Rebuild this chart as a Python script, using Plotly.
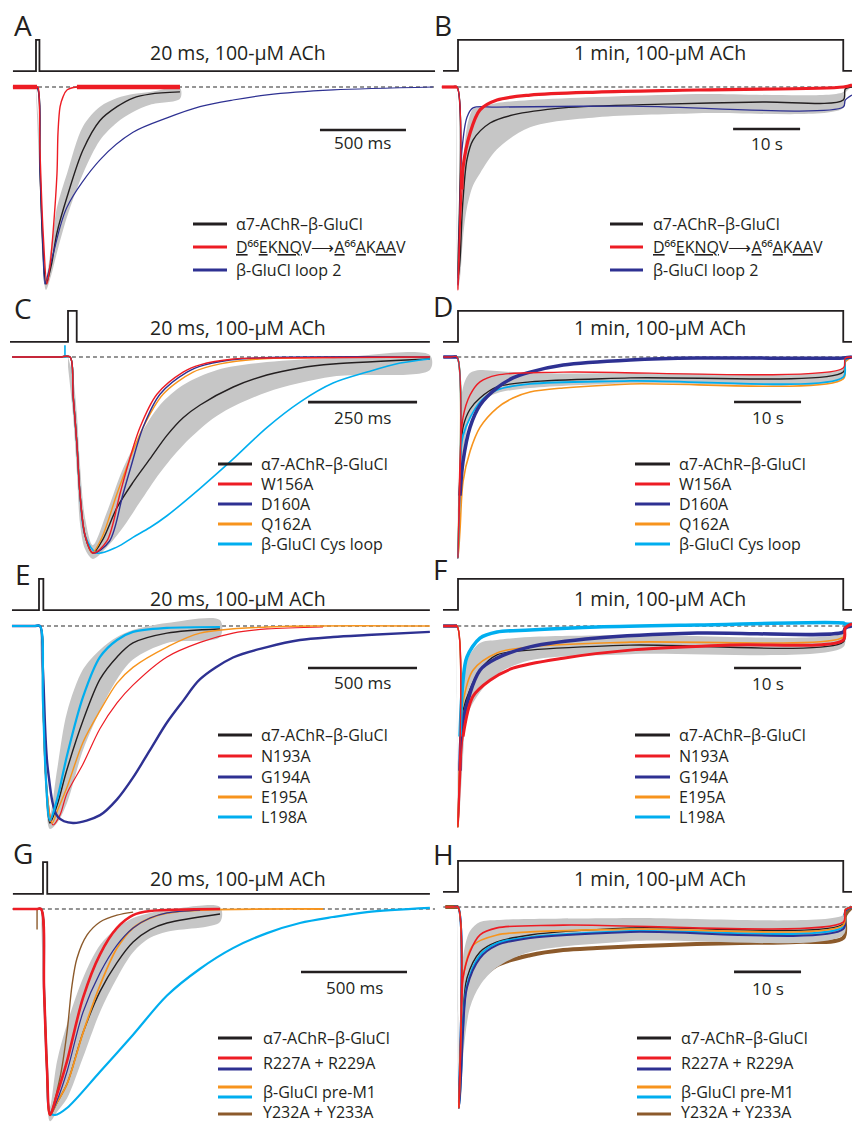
import plotly.graph_objects as go

W, H = 852, 1124

# ---------------- DATA (time: ms for left panels, s for right panels; current normalised to peak) -------------
# Panel A
A_T_WT = [-134, -20, 6, 23, 41, 58, 90, 122, 180, 273, 372, 471, 564, 663, 837]
A_V_WT = [0, 0, 0, -0.42, -0.83, -1.0, -0.90, -0.74, -0.56, -0.32, -0.17, -0.10, -0.056, -0.036, -0.025]
A_BAND_T = [0, 23, 41, 58, 90, 122, 180, 273, 372, 471, 564, 663, 837]
A_BAND_HI = [0.0, -0.30, -0.72, -0.97, -0.80, -0.61, -0.44, -0.20, -0.10, -0.056, -0.036, -0.025, -0.005]
A_BAND_LO = [-0.02, -0.52, -0.92, -1.03, -0.95, -0.84, -0.66, -0.44, -0.27, -0.18, -0.127, -0.09, -0.06]
A_T_D66 = [-134, -20, 6, 12, 23, 41, 64, 81, 99, 122, 128, 140, 157, 180, 238, 400, 837]
A_V_D66 = [0, 0, 0, 0, -0.32, -0.73, -1.0, -0.91, -0.74, -0.44, -0.23, -0.10, -0.05, -0.015, 0, 0, 0]
A_T_LOOP2 = [-134, -20, 6, 23, 41, 52, 70, 99, 180, 372, 564, 762, 953, 1145, 1343, 1727, 2308]
A_V_LOOP2 = [0, 0, 0, -0.42, -0.83, -1.0, -0.95, -0.85, -0.61, -0.37, -0.23, -0.157, -0.10, -0.066, -0.04, -0.015, 0]
A_STIM_T = [-134, 0, 0, 20, 20, 2320]
A_STIM_V = [0.081, 0.081, 0.239, 0.239, 0.081, 0.081]
A_DASH_T = [12, 2320]

# Panel B
B_T_WT = [-2.4, -1.0, -0.15, 0, 0.3, 0.6, 0.75, 1.34, 2.24, 4.78, 8.2, 15.7, 30.6, 45.5, 57.5, 57.8, 58.8]
B_V_WT = [0, 0, 0, -0.95, -0.86, -0.64, -0.56, -0.36, -0.264, -0.179, -0.139, -0.104, -0.085, -0.075, -0.065, -0.01, 0]
B_BAND_T = [-0.15, 0, 0.3, 0.75, 1.34, 2.24, 3.28, 5.82, 10.75, 20.75, 35.7, 57.5, 57.8, 58.8]
B_BAND_HI = [0, -0.93, -0.70, -0.40, -0.20, -0.11, -0.10, -0.08, -0.065, -0.05, -0.035, -0.025, 0.0, 0.0]
B_BAND_LO = [0, -1.0, -0.95, -0.75, -0.60, -0.49, -0.43, -0.31, -0.20, -0.15, -0.13, -0.105, -0.03, 0.0]
B_T_D66 = [-2.4, -1.0, -0.15, 0, 0.3, 0.6, 0.75, 1.79, 3.28, 5.82, 10.75, 20.75, 35.7, 57.5, 58.8]
B_V_D66 = [0, 0, 0, -1.01, -0.71, -0.51, -0.40, -0.23, -0.114, -0.065, -0.04, -0.025, -0.015, 0, 0.01]
B_T_LOOP2 = [-2.4, -1.0, -0.15, 0, 0.3, 0.6, 1.34, 2.24, 5.8, 25.7, 57.5, 57.8, 58.8]
B_V_LOOP2 = [0, 0, 0, -0.985, -0.56, -0.31, -0.15, -0.104, -0.10, -0.095, -0.10, -0.065, -0.04]
B_STIM_T = [-2.24, 0, 0, 57.5, 57.5, 58.8]
B_STIM_V = [0.08, 0.08, 0.234, 0.234, 0.08, 0.08]
B_DASH_T = [-2.2, 58.8]

# Panel C
C_T_WT = [-128, -20, 4.6, 11.5, 20.6, 27.5, 39, 57, 80, 112, 149, 188, 227, 264, 303, 379, 456, 532, 608, 830]
C_V_WT = [0, 0, 0, -0.19, -0.45, -0.70, -0.91, -1.0, -0.93, -0.77, -0.64, -0.52, -0.40, -0.31, -0.245, -0.153, -0.092, -0.056, -0.036, -0.01]
C_BAND_T = [0, 11.5, 20.6, 27.5, 39, 57, 89.5, 126, 165, 211, 264, 342, 456, 608, 830]
C_BAND_HI = [0.0, -0.10, -0.30, -0.55, -0.82, -0.96, -0.79, -0.57, -0.40, -0.245, -0.143, -0.066, -0.026, -0.005, 0.01]
C_BAND_LO = [-0.05, -0.30, -0.60, -0.85, -0.98, -1.03, -0.97, -0.87, -0.74, -0.59, -0.45, -0.30, -0.18, -0.10, -0.066]
C_T_W156A = [-128, -20, 4.6, 11.5, 20.6, 27.5, 39, 57, 89, 119, 135, 165, 204, 264, 303, 379, 456, 830]
C_V_W156A = [0, 0, 0, -0.19, -0.45, -0.70, -0.91, -1.0, -0.94, -0.70, -0.57, -0.36, -0.19, -0.077, -0.04, -0.01, -0.005, 0]
C_T_D160A = [-128, -20, 4.6, 11.5, 20.6, 27.5, 39, 57, 95, 126, 143, 172, 211, 273, 314, 394, 830]
C_V_D160A = [0, 0, 0, -0.19, -0.45, -0.70, -0.91, -1.0, -0.94, -0.70, -0.57, -0.36, -0.19, -0.077, -0.04, -0.01, 0]
C_T_Q162A = [-128, -20, 4.6, 11.5, 20.6, 27.5, 39, 55, 78, 112, 142, 172, 218, 287, 349, 440, 830]
C_V_Q162A = [0, 0, 0, -0.19, -0.45, -0.70, -0.91, -1.0, -0.92, -0.70, -0.52, -0.36, -0.19, -0.077, -0.035, -0.01, 0]
C_T_CYS = [-128, -20, 4.6, 11.5, 20.6, 27.5, 39, 66, 112, 149, 188, 227, 303, 379, 456, 532, 608, 686, 762, 830]
C_V_CYS = [0, 0, 0, -0.19, -0.45, -0.70, -0.91, -1.0, -0.97, -0.92, -0.87, -0.81, -0.67, -0.52, -0.36, -0.23, -0.133, -0.077, -0.031, -0.01]
C_SPIKE_T = [-7, -7]
C_SPIKE_V = [0.06, -0.005]
C_STIM_T = [-133, 0, 0, 20, 20, 830]
C_STIM_V = [0.077, 0.077, 0.235, 0.235, 0.077, 0.077]
C_DASH_T = [-7, 830]

# Panel D
D_T_WT = [-2.2, -1.0, -0.15, 0, 0.3, 0.75, 1.79, 3.28, 5.82, 10.75, 25.7, 57.5, 57.8, 58.8]
D_V_WT = [0, 0, 0, -1.0, -0.56, -0.35, -0.26, -0.204, -0.149, -0.124, -0.104, -0.075, -0.015, 0]
D_BAND_T = [-0.15, 0, 0.3, 0.75, 1.79, 3.28, 5.82, 10.75, 25.7, 57.5, 57.8, 58.8]
D_BAND_HI = [0, -0.95, -0.40, -0.15, -0.08, -0.065, -0.07, -0.08, -0.08, -0.055, -0.01, 0]
D_BAND_LO = [0, -1.0, -0.80, -0.50, -0.30, -0.224, -0.18, -0.154, -0.13, -0.104, -0.02, 0]
D_T_W156A = [-2.2, -1.0, -0.15, 0, 0.3, 0.75, 1.79, 3.28, 5.82, 15.7, 57.5, 57.8, 58.8]
D_V_W156A = [0, 0, 0, -1.0, -0.52, -0.30, -0.19, -0.124, -0.09, -0.075, -0.055, -0.005, 0]
D_T_D160A = [-2.2, -1.0, -0.15, 0, 0.3, 0.75, 1.79, 3.28, 5.82, 8.2, 10.75, 15.7, 25.7, 35.7, 57.5, 58.8]
D_V_D160A = [0, 0, 0, -1.0, -0.69, -0.52, -0.35, -0.24, -0.154, -0.104, -0.075, -0.04, -0.015, -0.005, -0.005, 0]
D_T_Q162A = [-2.2, -1.0, -0.15, 0, 0.3, 0.75, 1.79, 3.28, 5.82, 8.2, 10.75, 15.7, 25.7, 57.5, 57.8, 58.8]
D_V_Q162A = [0, 0, 0, -1.0, -0.86, -0.62, -0.47, -0.35, -0.254, -0.204, -0.174, -0.154, -0.134, -0.109, -0.025, 0]
D_T_CYS = [-2.2, -1.0, -0.15, 0, 0.3, 0.75, 3.28, 5.82, 10.75, 25.7, 57.5, 57.8, 58.8]
D_V_CYS = [0, 0, 0, -1.0, -0.61, -0.39, -0.224, -0.164, -0.134, -0.119, -0.10, -0.015, 0]
D_STIM_T = [-2.24, 0, 0, 57.5, 57.5, 58.8]
D_STIM_V = [0.075, 0.075, 0.229, 0.229, 0.075, 0.075]
D_DASH_T = [-2.2, 58.8]

# Panel E
E_T_WT = [-124, -20, 4.6, 18, 32, 50, 83, 128, 202, 280, 358, 431, 587, 830]
E_V_WT = [0, 0, 0, -0.38, -0.78, -1.0, -0.91, -0.73, -0.48, -0.27, -0.157, -0.086, -0.036, -0.015]
E_BAND_T = [4.6, 18, 32, 50, 83, 128, 202, 280, 358, 431, 587, 830]
E_BAND_HI = [0, -0.25, -0.65, -0.96, -0.73, -0.44, -0.22, -0.12, -0.056, -0.02, 0.015, 0.03]
E_BAND_LO = [-0.03, -0.50, -0.88, -1.03, -1.0, -0.90, -0.63, -0.43, -0.27, -0.17, -0.086, -0.056]
E_T_N193A = [-124, -20, 4.6, 18, 32, 64, 96, 128, 202, 280, 358, 431, 587, 739, 890, 1046, 1303]
E_V_N193A = [0, 0, 0, -0.38, -0.78, -1.01, -0.96, -0.85, -0.70, -0.52, -0.39, -0.30, -0.157, -0.083, -0.036, -0.015, -0.005]
E_T_G194A = [-124, -20, 4.6, 18, 41, 87, 156, 280, 358, 431, 509, 587, 661, 739, 890, 1046, 1197, 1349, 1505, 1793]
E_V_G194A = [0, 0, 0, -0.22, -0.73, -0.97, -1.0, -0.96, -0.88, -0.77, -0.63, -0.49, -0.38, -0.27, -0.16, -0.107, -0.071, -0.056, -0.046, -0.03]
E_T_E195A = [-124, -20, 4.6, 18, 32, 60, 87, 128, 202, 280, 358, 431, 587, 739, 1046, 1793]
E_V_E195A = [0, 0, 0, -0.38, -0.78, -1.0, -0.93, -0.82, -0.59, -0.43, -0.29, -0.21, -0.107, -0.036, -0.005, 0]
E_T_L198A = [-124, -20, 4.6, 18, 32, 50, 83, 128, 202, 280, 358, 431, 587, 830]
E_V_L198A = [0, 0, 0, -0.38, -0.78, -0.985, -0.88, -0.66, -0.36, -0.157, -0.071, -0.03, -0.01, -0.005]
E_STIM_T = [-124, 0, 0, 20, 20, 1793]
E_STIM_V = [0.081, 0.081, 0.239, 0.239, 0.081, 0.081]
E_DASH_T = [4.6, 1793]

# Panel F
F_T_WT = [-2.2, -1.0, -0.15, 0, 0.3, 0.75, 3.28, 5.82, 10.75, 25.7, 57.5, 57.8, 58.8]
F_V_WT = [0, 0, 0, -1.0, -0.70, -0.42, -0.22, -0.144, -0.12, -0.095, -0.08, -0.01, 0]
F_BAND_T = [-0.15, 0, 0.3, 0.75, 1.34, 3.28, 5.82, 10.75, 25.7, 57.5, 57.8, 58.8]
F_BAND_HI = [0, -0.95, -0.50, -0.30, -0.17, -0.085, -0.07, -0.055, -0.045, -0.035, 0, 0]
F_BAND_LO = [0, -1.0, -0.90, -0.65, -0.45, -0.33, -0.24, -0.17, -0.14, -0.105, -0.02, 0]
F_T_N193A = [-2.2, -1.0, -0.15, 0, 0.3, 0.75, 2.24, 4.78, 8.2, 15.7, 25.7, 40.6, 57.5, 57.8, 58.8]
F_V_N193A = [0, 0, 0, -1.0, -0.80, -0.55, -0.35, -0.27, -0.21, -0.16, -0.12, -0.095, -0.07, -0.01, 0.01]
F_T_G194A = [-2.2, -1.0, -0.15, 0, 0.3, 0.75, 3.28, 5.82, 10.75, 20.75, 35.7, 57.5, 57.8, 58.8]
F_V_G194A = [0, 0, 0, -1.0, -0.72, -0.47, -0.22, -0.16, -0.104, -0.06, -0.035, -0.03, -0.01, 0]
F_T_E195A = [-2.2, -1.0, -0.15, 0, 0.3, 0.75, 2.24, 5.82, 10.75, 25.7, 57.5, 57.8, 58.8]
F_V_E195A = [0, 0, 0, -1.0, -0.65, -0.38, -0.22, -0.134, -0.104, -0.08, -0.055, -0.01, 0]
F_T_L198A = [-2.2, -1.0, -0.15, 0, 0.3, 0.75, 1.34, 3.28, 5.82, 10.75, 20.75, 35.7, 57.5, 57.8, 58.8]
F_V_L198A = [0, 0, 0, -1.0, -0.55, -0.27, -0.154, -0.06, -0.03, -0.02, -0.005, 0.005, 0.015, 0.01, 0.01]
F_STIM_T = [-2.24, 0, 0, 57.5, 57.5, 58.8]
F_STIM_V = [0.08, 0.08, 0.234, 0.234, 0.08, 0.08]
F_DASH_T = [-2.2, 58.8]

# Panel G
G_T_WT = [-142, -30, -9, 5, 19, 33, 66, 113, 189, 269, 349, 425, 505, 585, 835]
G_V_WT = [0, 0, 0, -0.39, -0.78, -1.0, -0.94, -0.85, -0.60, -0.40, -0.26, -0.16, -0.10, -0.068, -0.024]
G_BAND_T = [-9, 5, 19, 33, 66, 113, 189, 269, 349, 425, 505, 585, 835]
G_BAND_HI = [0, -0.25, -0.65, -0.96, -0.74, -0.56, -0.335, -0.175, -0.092, -0.044, -0.019, -0.005, 0.01]
G_BAND_LO = [-0.03, -0.52, -0.88, -1.03, -0.985, -0.92, -0.72, -0.50, -0.335, -0.21, -0.14, -0.11, -0.063]
G_T_R227A = [-142, -30, -9, 5, 19, 33, 66, 113, 189, 269, 349, 425, 505, 835]
G_V_R227A = [0, 0, 0, -0.39, -0.78, -1.0, -0.90, -0.74, -0.43, -0.22, -0.092, -0.03, -0.01, 0]
G_T_R229A = [-142, -30, -9, 5, 19, 33, 66, 113, 189, 269, 349, 425, 505, 585, 741]
G_V_R229A = [0, 0, 0, -0.39, -0.78, -1.0, -0.93, -0.79, -0.50, -0.31, -0.175, -0.092, -0.044, -0.019, -0.005]
G_T_PREM1 = [-142, -30, -9, 5, 19, 33, 66, 113, 189, 269, 349, 425, 505, 585, 741, 1321]
G_V_PREM1 = [0, 0, 0, -0.39, -0.78, -1.0, -0.94, -0.85, -0.60, -0.37, -0.19, -0.092, -0.044, -0.02, -0.005, 0]
G_T_PREM1B = [-142, -30, -9, 5, 19, 33, 57, 113, 269, 425, 585, 741, 896, 1057, 1212, 1368, 1528, 1825]
G_V_PREM1B = [0, 0, 0, -0.39, -0.78, -0.99, -1.0, -0.966, -0.79, -0.61, -0.42, -0.29, -0.19, -0.117, -0.068, -0.039, -0.015, 0.005]
G_T_Y232A = [-142, -30, -9, 5, 19, 33, 80, 113, 137, 160, 208, 269, 349, 425]
G_V_Y232A = [0, 0, 0, -0.39, -0.78, -0.99, -0.82, -0.60, -0.37, -0.24, -0.126, -0.063, -0.03, -0.015]
G_SPIKE_T = [-28, -28]
G_SPIKE_V = [0, -0.10]
G_STIM_T = [-142, 0, 0, 20, 20, 1825]
G_STIM_V = [0.073, 0.073, 0.228, 0.228, 0.073, 0.073]
G_DASH_T = [-142, 1849]

# Panel H
H_T_WT = [-1.9, -0.8, 0, 0.15, 0.45, 0.75, 1.34, 3.28, 5.82, 10.75, 25.7, 57.5, 57.8, 58.8]
H_V_WT = [0, 0, 0, -1.0, -0.78, -0.55, -0.353, -0.224, -0.174, -0.139, -0.104, -0.085, -0.015, 0]
H_BAND_T = [0, 0.15, 0.45, 0.75, 1.79, 3.28, 5.82, 10.75, 25.7, 57.5, 57.8, 58.8]
H_BAND_HI = [0, -0.95, -0.50, -0.25, -0.12, -0.075, -0.065, -0.06, -0.055, -0.04, 0, 0]
H_BAND_LO = [0, -1.0, -0.95, -0.75, -0.50, -0.39, -0.30, -0.224, -0.17, -0.139, -0.02, 0]
H_T_R227A = [-1.9, -0.8, 0, 0.15, 0.45, 0.6, 0.75, 1.79, 3.28, 5.82, 15.7, 57.5, 57.8, 58.8]
H_V_R227A = [0, 0, 0, -1.0, -0.60, -0.44, -0.353, -0.224, -0.139, -0.104, -0.09, -0.075, -0.015, 0]
H_T_R229A = [-1.9, -0.8, 0, 0.15, 0.45, 0.75, 1.34, 3.28, 5.82, 10.75, 25.7, 57.5, 57.8, 58.8]
H_V_R229A = [0, 0, 0, -1.0, -0.85, -0.62, -0.40, -0.254, -0.19, -0.154, -0.124, -0.11, -0.02, 0]
H_T_PREM1 = [-1.9, -0.8, 0, 0.15, 0.45, 0.75, 2.24, 5.82, 10.75, 25.7, 57.5, 57.8, 58.8]
H_V_PREM1 = [0, 0, 0, -1.0, -0.62, -0.353, -0.19, -0.139, -0.124, -0.11, -0.09, -0.015, 0]
H_T_PREM1B = [-1.9, -0.8, 0, 0.15, 0.45, 0.75, 1.34, 3.28, 5.82, 10.75, 25.7, 57.5, 57.8, 58.8]
H_V_PREM1B = [0, 0, 0, -1.0, -0.83, -0.60, -0.39, -0.24, -0.18, -0.15, -0.12, -0.10, -0.02, 0]
H_T_Y232A = [-1.9, -0.8, 0.05, 2.84, 5.82, 10.75, 15.7, 20.75, 30.6, 40.6, 50.5, 57.5, 57.8, 58.8]
H_V_Y232A = [0, 0, 0, -0.373, -0.29, -0.24, -0.214, -0.204, -0.19, -0.18, -0.174, -0.154, -0.04, 0]
H_STIM_T = [-2.24, 0, 0, 57.5, 57.5, 58.8]
H_STIM_V = [0.075, 0.075, 0.229, 0.229, 0.075, 0.075]
H_DASH_T = [-2.2, 58.8]

# scale bars: (start, length, level, label level, label)
SCALE_A = (1651, 500, -0.218, -0.284, "500 ms")
SCALE_B = (41.06, 10, -0.209, -0.279, "10 s")
SCALE_C = (550.6, 250, -0.23, -0.311, "250 ms")
SCALE_D = (41.2, 10, -0.224, -0.30, "10 s")
SCALE_E = (1234, 500, -0.213, -0.289, "500 ms")
SCALE_F = (41.2, 10, -0.209, -0.284, "10 s")
SCALE_G = (1217, 500, -0.306, -0.383, "500 ms")
SCALE_H = (41.2, 10, -0.323, -0.403, "10 s")

PULSE_SHORT = "20 ms, 100-μM ACh"
PULSE_LONG = "1 min, 100-μM ACh"
WT_NAME = "α7-AChR–β-GluCl"
LEG_A = [WT_NAME, "<u>D</u>⁶⁶<u>E</u>K<u>NQ</u>V⟶<u>A</u>⁶⁶<u>A</u>K<u>AA</u>V", "β-GluCl loop 2"]
LEG_C = [WT_NAME, "W156A", "D160A", "Q162A", "β-GluCl Cys loop"]
LEG_E = [WT_NAME, "N193A", "G194A", "E195A", "L198A"]
LEG_G = [WT_NAME, "R227A + R229A", "β-GluCl pre-M1", "Y232A + Y233A"]

# ---------------- STYLE / LAYOUT -------------
BLACK = "#231f20"
RED = "#ed1c24"
NAVY = "#2e3192"
ORANGE = "#f7941d"
CYAN = "#00aeef"
BROWN = "#8c5a2b"
GREY = "rgba(198,198,198,1)"
FONT = "Open Sans"

# pixel geometry of each panel: box (L, R, T, B), x-pixel of t=0, time per pixel, baseline & peak pixel rows
PANELS = [
    dict(box=(0, 436, 0, 292), x0=36, k=500 / 86, base=87, peak=284),
    dict(box=(436, 852, 0, 292), x0=458, k=10 / 67, base=87, peak=288),
    dict(box=(0, 436, 292, 566), x0=68, k=250 / 109, base=357, peak=553),
    dict(box=(436, 852, 292, 566), x0=458, k=10 / 67, base=357, peak=558),
    dict(box=(0, 436, 566, 840), x0=39, k=500 / 109, base=626, peak=823),
    dict(box=(436, 852, 566, 840), x0=458, k=10 / 67, base=626, peak=827),
    dict(box=(0, 436, 840, 1124), x0=43, k=500 / 106, base=909, peak=1115),
    dict(box=(436, 852, 840, 1124), x0=458, k=10 / 67, base=907, peak=1108),
]

fig = go.Figure()
layout = dict(width=W, height=H, margin=dict(l=0, r=0, t=0, b=0),
              paper_bgcolor="white", plot_bgcolor="rgba(0,0,0,0)", showlegend=False)

for i, g in enumerate(PANELS, start=1):
    L, R, T, B = g["box"]
    xr = [(L - g["x0"]) * g["k"], (R - g["x0"]) * g["k"]]
    span = g["peak"] - g["base"]
    yr = [-(B - g["base"]) / span, -(T - g["base"]) / span]
    sfx = "" if i == 1 else str(i)
    layout["xaxis" + sfx] = dict(domain=[L / W, R / W], range=xr, visible=False,
                                 fixedrange=True, anchor="y" + sfx)
    layout["yaxis" + sfx] = dict(domain=[1 - B / H, 1 - T / H], range=yr, visible=False,
                                 fixedrange=True, anchor="x" + sfx)
fig.update_layout(**layout)


def axes(i):
    s = "" if i == 1 else str(i)
    return "x" + s, "y" + s


def line(i, t, v, color, width=1.4, shape="spline", dash=None, opacity=1.0):
    xa, ya = axes(i)
    fig.add_trace(go.Scatter(x=t, y=v, mode="lines", xaxis=xa, yaxis=ya, opacity=opacity,
                             line=dict(color=color, width=width, shape=shape, smoothing=0.9, dash=dash),
                             hoverinfo="skip", connectgaps=False))


def noisy(i, t, v, color, width, t_pre, t_post):
    """thick (noisy-looking) rendering of the baseline before t_pre and of the record after t_post"""
    xs, ys = [], []
    for a, b in zip(t, v):
        if a <= t_pre:
            xs.append(a); ys.append(b)
    xs.append(None); ys.append(None)
    for a, b in zip(t, v):
        if a >= t_post:
            xs.append(a); ys.append(b)
    line(i, xs, ys, color, width=width)


def band(i, t, hi, lo):
    xa, ya = axes(i)
    fig.add_trace(go.Scatter(x=list(t) + list(t)[::-1], y=list(hi) + list(lo)[::-1], mode="lines",
                             fill="toself", fillcolor=GREY, xaxis=xa, yaxis=ya,
                             line=dict(width=0, shape="spline", smoothing=0.9), hoverinfo="skip"))


def frame(i, stim_t, stim_v, dash_t):
    line(i, stim_t, stim_v, BLACK, width=1.8, shape="linear")
    line(i, dash_t, [0] * len(dash_t), "#2a2a2a", width=1.1, shape="linear", dash="4px,3px")


def scalebar(i, sb):
    xa, ya = axes(i)
    x0, length, lvl, lbl_lvl, text = sb
    fig.add_shape(type="line", xref=xa, yref=ya, x0=x0, x1=x0 + length, y0=lvl, y1=lvl,
                  line=dict(color=BLACK, width=2.6))
    fig.add_annotation(xref=xa, yref=ya, x=x0 + length / 2, y=lbl_lvl, text=text, showarrow=False,
                       font=dict(family=FONT, size=17, color=BLACK), xanchor="center", yanchor="middle")


def ptext(x, y, text, size=17, anchor="center"):
    fig.add_annotation(xref="paper", yref="paper", x=x / W, y=1 - y / H, text=text, showarrow=False,
                       font=dict(family=FONT, size=size, color=BLACK), xanchor=anchor, yanchor="middle")


def legend(x0, x1, ys, colors, tx, tys, texts):
    for y, c in zip(ys, colors):
        fig.add_shape(type="line", xref="paper", yref="paper", x0=x0 / W, x1=x1 / W,
                      y0=1 - y / H, y1=1 - y / H, line=dict(color=c, width=2.8))
    for y, t in zip(tys, texts):
        ptext(tx, y, t, size=16, anchor="left")


# ---- Panel A ----
frame(1, A_STIM_T, A_STIM_V, A_DASH_T)
band(1, A_BAND_T, A_BAND_HI, A_BAND_LO)
line(1, A_T_WT, A_V_WT, BLACK)
line(1, A_T_LOOP2, A_V_LOOP2, NAVY, width=1.2)
line(1, A_T_D66, A_V_D66, RED, width=1.4)
noisy(1, A_T_D66, A_V_D66, RED, 4.5, 6, 238)
scalebar(1, SCALE_A)

# ---- Panel B ----
frame(2, B_STIM_T, B_STIM_V, B_DASH_T)
band(2, B_BAND_T, B_BAND_HI, B_BAND_LO)
line(2, B_T_WT, B_V_WT, BLACK)
line(2, B_T_LOOP2, B_V_LOOP2, NAVY, width=1.3)
line(2, B_T_D66, B_V_D66, RED, width=1.4)
noisy(2, B_T_D66, B_V_D66, RED, 3.2, -0.15, 0.6)
scalebar(2, SCALE_B)

# ---- Panel C ----
frame(3, C_STIM_T, C_STIM_V, C_DASH_T)
band(3, C_BAND_T, C_BAND_HI, C_BAND_LO)
line(3, C_T_WT, C_V_WT, BLACK)
line(3, C_T_CYS, C_V_CYS, CYAN, width=1.6)
line(3, C_SPIKE_T, C_SPIKE_V, CYAN, width=1.6, shape="linear")
line(3, C_T_Q162A, C_V_Q162A, ORANGE)
line(3, C_T_D160A, C_V_D160A, NAVY)
line(3, C_T_W156A, C_V_W156A, RED)
scalebar(3, SCALE_C)

# ---- Panel D ----
frame(4, D_STIM_T, D_STIM_V, D_DASH_T)
band(4, D_BAND_T, D_BAND_HI, D_BAND_LO)
line(4, D_T_WT, D_V_WT, BLACK)
line(4, D_T_Q162A, D_V_Q162A, ORANGE, width=1.6)
line(4, D_T_CYS, D_V_CYS, CYAN, width=1.8)
noisy(4, D_T_D160A, D_V_D160A, NAVY, 3.5, -0.15, 0.3)
line(4, D_T_W156A, D_V_W156A, RED)
scalebar(4, SCALE_D)

# ---- Panel E ----
frame(5, E_STIM_T, E_STIM_V, E_DASH_T)
band(5, E_BAND_T, E_BAND_HI, E_BAND_LO)
line(5, E_T_WT, E_V_WT, BLACK)
line(5, E_T_N193A, E_V_N193A, RED, width=1.2)
line(5, E_T_E195A, E_V_E195A, ORANGE, width=1.4)
line(5, E_T_G194A, E_V_G194A, NAVY, width=2.4)
line(5, E_T_L198A, E_V_L198A, CYAN, width=2.2)
scalebar(5, SCALE_E)

# ---- Panel F ----
frame(6, F_STIM_T, F_STIM_V, F_DASH_T)
band(6, F_BAND_T, F_BAND_HI, F_BAND_LO)
line(6, F_T_WT, F_V_WT, BLACK)
line(6, F_T_E195A, F_V_E195A, ORANGE, width=1.6)
noisy(6, F_T_G194A, F_V_G194A, NAVY, 3.5, -0.15, 0.3)
noisy(6, F_T_L198A, F_V_L198A, CYAN, 3.5, -0.15, 0.3)
line(6, F_T_N193A, F_V_N193A, RED, width=1.4)
noisy(6, F_T_N193A, F_V_N193A, RED, 3.0, -0.15, 0.75)
scalebar(6, SCALE_F)

# ---- Panel G ----
frame(7, G_STIM_T, G_STIM_V, G_DASH_T)
band(7, G_BAND_T, G_BAND_HI, G_BAND_LO)
line(7, G_T_PREM1B, G_V_PREM1B, CYAN, width=2.2)
line(7, G_T_WT, G_V_WT, BLACK)
line(7, G_T_Y232A, G_V_Y232A, BROWN, width=1.4)
line(7, G_SPIKE_T, G_SPIKE_V, BROWN, width=1.4, shape="linear")
line(7, G_T_PREM1, G_V_PREM1, ORANGE, width=1.8)
line(7, G_T_R229A, G_V_R229A, NAVY, width=1.2)
line(7, G_T_R227A, G_V_R227A, RED, width=2.6)
scalebar(7, SCALE_G)

# ---- Panel H ----
frame(8, H_STIM_T, H_STIM_V, H_DASH_T)
noisy(8, H_T_Y232A, H_V_Y232A, BROWN, 4, 0.05, 2.84)
band(8, H_BAND_T, H_BAND_HI, H_BAND_LO)
line(8, H_T_WT, H_V_WT, BLACK)
line(8, H_T_PREM1B, H_V_PREM1B, CYAN, width=2)
line(8, H_T_R229A, H_V_R229A, NAVY, width=2)
line(8, H_T_PREM1, H_V_PREM1, ORANGE, width=1.6)
line(8, H_T_R227A, H_V_R227A, RED, width=1.6)
scalebar(8, SCALE_H)

# ---- texts ----
for lbl, (x, y) in zip("ABCDEFGH", [(23, 25), (443, 25), (23, 308), (443, 306),
                                    (23, 574), (440, 569), (23, 853), (443, 854)]):
    ptext(x, y, lbl, size=28)
for y in (53, 328, 598, 878):
    ptext(238, y, PULSE_SHORT, size=19.5)
    ptext(660, y, PULSE_LONG, size=19.5)

legend(193, 227, [224, 247, 270], [BLACK, RED, NAVY], 234, [224, 247, 270], LEG_A)
legend(610, 643, [224, 247, 270], [BLACK, RED, NAVY], 651, [224, 247, 270], LEG_A)
ys5 = [464, 484, 504, 524, 544]
legend(218, 252, ys5, [BLACK, RED, NAVY, ORANGE, CYAN], 259, ys5, LEG_C)
legend(635, 670, ys5, [BLACK, RED, NAVY, ORANGE, CYAN], 677, ys5, LEG_C)
ys5e = [735, 756, 777, 797, 817]
legend(218, 252, ys5e, [BLACK, RED, NAVY, ORANGE, CYAN], 259, ys5e, LEG_E)
legend(635, 670, ys5e, [BLACK, RED, NAVY, ORANGE, CYAN], 677, ys5e, LEG_E)
ys6 = [1038, 1058, 1069, 1087, 1097, 1114]
tys = [1038, 1063, 1092, 1112]
legend(218, 252, ys6, [BLACK, RED, NAVY, ORANGE, CYAN, BROWN], 261, tys, LEG_G)
legend(637, 671, ys6, [BLACK, RED, NAVY, ORANGE, CYAN, BROWN], 679, tys, LEG_G)

fig.write_html("out.html", config={"displayModeBar": False},
               post_script="document.body.style.margin='0';document.body.style.overflow='hidden';")
